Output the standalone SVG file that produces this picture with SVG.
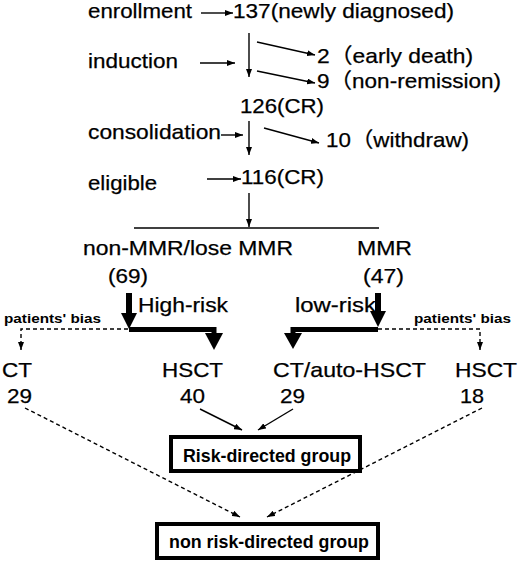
<svg xmlns="http://www.w3.org/2000/svg" width="520" height="562" viewBox="0 0 520 562">
<style>
.t{font-family:"Liberation Sans",Arial,"Noto Sans CJK SC",sans-serif;font-size:21px;fill:#000;stroke:#000;stroke-width:0.25}
.b{font-family:"Liberation Sans",Arial,sans-serif;font-weight:bold;fill:#000}
.ln{stroke:#000;stroke-width:1.4;fill:none}
.ds{stroke:#000;stroke-width:1.4;fill:none;stroke-dasharray:4,3}
.thick{stroke:#000;stroke-width:5;fill:none}
.box{fill:#fff;stroke:#000;stroke-width:4}
</style>
<defs>
<marker id="ah" markerUnits="userSpaceOnUse" markerWidth="8" markerHeight="6" refX="8" refY="3" orient="auto">
<path d="M0,0 L8,3 L0,6 z" fill="#000"/>
</marker>
</defs>
<rect width="520" height="562" fill="#fff"/>
<g id="connectors">
<line class="ln" x1="201" y1="13" x2="233" y2="13" marker-end="url(#ah)"/>
<line class="ln" x1="200" y1="63" x2="235" y2="63" marker-end="url(#ah)"/>
<line class="ln" x1="249" y1="33" x2="249" y2="77" marker-end="url(#ah)"/>
<line class="ln" x1="257" y1="42" x2="315" y2="55" marker-end="url(#ah)"/>
<line class="ln" x1="257" y1="71" x2="315" y2="83" marker-end="url(#ah)"/>
<line class="ln" x1="221" y1="135" x2="243" y2="135" marker-end="url(#ah)"/>
<line class="ln" x1="249" y1="121" x2="249" y2="155" marker-end="url(#ah)"/>
<line class="ln" x1="264" y1="128" x2="319" y2="143" marker-end="url(#ah)"/>
<line class="ln" x1="207" y1="179" x2="241" y2="179" marker-end="url(#ah)"/>
<line class="ln" x1="249" y1="193" x2="249" y2="227" marker-end="url(#ah)"/>
<line class="ln" x1="134" y1="228" x2="379" y2="228"/>
<rect x="126" y="293" width="6" height="21" fill="#000"/>
<polygon points="121,313 137,313 129,329" fill="#000"/>
<path class="thick" d="M129,329.5 H214 V334"/>
<polygon points="205,333 223,333 214,350" fill="#000"/>
<rect x="375" y="293" width="6" height="19" fill="#000"/>
<polygon points="370,311 386,311 378,327" fill="#000"/>
<path class="thick" d="M378,329.5 H293 V334"/>
<polygon points="284,333 302,333 293,349" fill="#000"/>
<path class="ds" d="M128,329 H21 V350" marker-end="url(#ah)"/>
<path class="ds" d="M378,329 H480 V350" marker-end="url(#ah)"/>
<line class="ln" x1="200" y1="409" x2="242" y2="430" marker-end="url(#ah)"/>
<line class="ln" x1="293" y1="409" x2="258" y2="430" marker-end="url(#ah)"/>
<line class="ds" x1="25" y1="408" x2="240" y2="517" marker-end="url(#ah)"/>
<line class="ds" x1="482" y1="408" x2="267" y2="517" marker-end="url(#ah)"/>
</g>
<g id="enrollment"><text class="t" x="88" y="18" textLength="104" lengthAdjust="spacingAndGlyphs">enrollment</text></g>
<g id="n137"><text class="t" x="233" y="18" textLength="221" lengthAdjust="spacingAndGlyphs">137(newly diagnosed)</text></g>
<g id="induction"><text class="t" x="88" y="68" textLength="90" lengthAdjust="spacingAndGlyphs">induction</text></g>
<g id="early-death"><text class="t" x="317" y="63" textLength="156" lengthAdjust="spacingAndGlyphs">2（early death)</text></g>
<g id="non-remission"><text class="t" x="317" y="88" textLength="184" lengthAdjust="spacingAndGlyphs">9（non-remission)</text></g>
<g id="n126"><text class="t" x="240" y="113" textLength="84" lengthAdjust="spacingAndGlyphs">126(CR)</text></g>
<g id="consolidation"><text class="t" x="88" y="139" textLength="133" lengthAdjust="spacingAndGlyphs">consolidation</text></g>
<g id="withdraw"><text class="t" x="326" y="147" textLength="143" lengthAdjust="spacingAndGlyphs">10（withdraw)</text></g>
<g id="eligible"><text class="t" x="88" y="190" textLength="69" lengthAdjust="spacingAndGlyphs">eligible</text></g>
<g id="n116"><text class="t" x="241" y="184" textLength="83" lengthAdjust="spacingAndGlyphs">116(CR)</text></g>
<g id="nonmmr"><text class="t" x="83" y="255" textLength="210" lengthAdjust="spacingAndGlyphs">non-MMR/lose MMR</text>
<text class="t" x="108" y="283" textLength="40" lengthAdjust="spacingAndGlyphs">(69)</text></g>
<g id="mmr"><text class="t" x="357" y="255" textLength="55" lengthAdjust="spacingAndGlyphs">MMR</text>
<text class="t" x="363" y="283" textLength="41" lengthAdjust="spacingAndGlyphs">(47)</text></g>
<g id="high-risk"><text class="t" x="138" y="312" textLength="90" lengthAdjust="spacingAndGlyphs">High-risk</text></g>
<g id="low-risk"><text class="t" x="295" y="312" textLength="81" lengthAdjust="spacingAndGlyphs">low-risk</text></g>
<g id="bias-left"><text class="b" x="4" y="323" font-size="13" textLength="97" lengthAdjust="spacingAndGlyphs">patients' bias</text></g>
<g id="bias-right"><text class="b" x="414" y="323" font-size="13" textLength="97" lengthAdjust="spacingAndGlyphs">patients' bias</text></g>
<g id="ct-left"><text class="t" x="2" y="377" textLength="30" lengthAdjust="spacingAndGlyphs">CT</text>
<text class="t" x="7" y="403" textLength="25" lengthAdjust="spacingAndGlyphs">29</text></g>
<g id="hsct-left"><text class="t" x="162" y="377" textLength="61" lengthAdjust="spacingAndGlyphs">HSCT</text>
<text class="t" x="180" y="403" textLength="25" lengthAdjust="spacingAndGlyphs">40</text></g>
<g id="ct-auto"><text class="t" x="273" y="377" textLength="153" lengthAdjust="spacingAndGlyphs">CT/auto-HSCT</text>
<text class="t" x="280" y="403" textLength="25" lengthAdjust="spacingAndGlyphs">29</text></g>
<g id="hsct-right"><text class="t" x="455" y="377" textLength="62" lengthAdjust="spacingAndGlyphs">HSCT</text>
<text class="t" x="460" y="403" textLength="24" lengthAdjust="spacingAndGlyphs">18</text></g>
<g id="risk-directed"><rect class="box" x="171" y="437" width="189" height="34"/>
<text class="b" x="183" y="462" font-size="18" textLength="168" lengthAdjust="spacingAndGlyphs">Risk-directed group</text></g>
<g id="non-risk-directed"><rect class="box" x="157" y="524" width="221" height="34"/>
<text class="b" x="169" y="548" font-size="18" textLength="200" lengthAdjust="spacingAndGlyphs">non risk-directed group</text></g>
</svg>
